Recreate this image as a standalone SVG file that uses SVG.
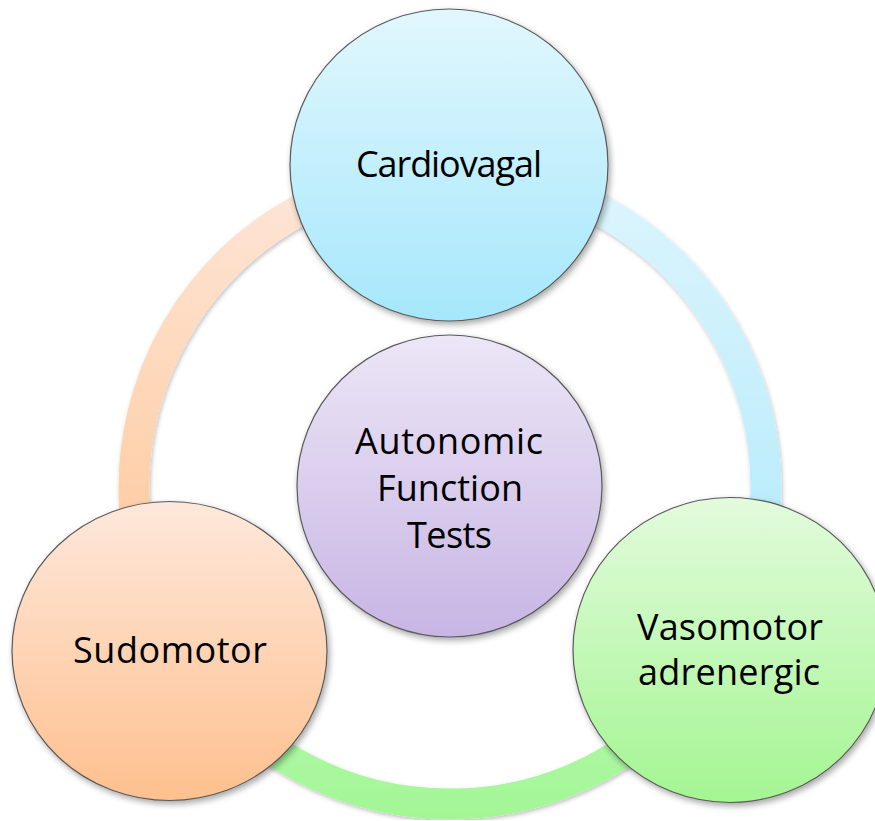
<svg xmlns="http://www.w3.org/2000/svg" width="875" height="821" viewBox="0 0 875 821">
<style>
.node{stroke:#5a5a5a;stroke-width:1.2;filter:url(#sh)}
.lbl{font-family:"Open Sans","Noto Sans",sans-serif;font-size:36px;fill:#000;text-anchor:middle}
.ring{fill:none;stroke-width:31;filter:url(#rsh)}
</style>
<defs>
<filter id="sh" x="-10%" y="-10%" width="125%" height="125%">
<feDropShadow dx="2" dy="3" stdDeviation="3" flood-color="#000" flood-opacity="0.35"/>
</filter>
<filter id="rsh" x="-10%" y="-10%" width="120%" height="120%">
<feDropShadow dx="1" dy="2" stdDeviation="2" flood-color="#000" flood-opacity="0.25"/>
</filter>
<linearGradient id="gC" x1="0" y1="0" x2="0" y2="1"><stop offset="0" stop-color="#E1F7FD"/><stop offset="1" stop-color="#A6E7FB"/></linearGradient>
<linearGradient id="gA" x1="0" y1="0" x2="0" y2="1"><stop offset="0" stop-color="#ECE6F6"/><stop offset="1" stop-color="#C8B5E4"/></linearGradient>
<linearGradient id="gS" x1="0" y1="0" x2="0" y2="1"><stop offset="0" stop-color="#FEE8DB"/><stop offset="1" stop-color="#FEC08E"/></linearGradient>
<linearGradient id="gV" x1="0" y1="0" x2="0" y2="1"><stop offset="0" stop-color="#E2FBDC"/><stop offset="1" stop-color="#A4F592"/></linearGradient>
<linearGradient id="rO" gradientUnits="userSpaceOnUse" x1="0" y1="172" x2="0" y2="646"><stop offset="0" stop-color="#FDE6D8"/><stop offset="1" stop-color="#FFC593"/></linearGradient>
<linearGradient id="rB" gradientUnits="userSpaceOnUse" x1="0" y1="172" x2="0" y2="646"><stop offset="0" stop-color="#DDF5FD"/><stop offset="1" stop-color="#AEE9FB"/></linearGradient>
<linearGradient id="rG" gradientUnits="userSpaceOnUse" x1="0" y1="646" x2="0" y2="820"><stop offset="0" stop-color="#B6F9AE"/><stop offset="1" stop-color="#A3F696"/></linearGradient>
</defs>
<g id="connectors">
<path class="ring" stroke="url(#rB)" d="M450 172 A316 316 0 0 1 723.66 646"/>
<path class="ring" stroke="url(#rG)" d="M723.66 646 A316 316 0 0 1 176.34 646"/>
<path class="ring" stroke="url(#rO)" d="M176.34 646 A316 316 0 0 1 450 172"/>
</g>
<g id="cardiovagal">
<ellipse class="node" cx="449" cy="165" rx="159" ry="156" fill="url(#gC)"/>
<text class="lbl" x="449" y="177" textLength="186">Cardiovagal</text>
</g>
<g id="autonomic">
<ellipse class="node" cx="449.5" cy="486" rx="152.5" ry="151" fill="url(#gA)"/>
<text class="lbl" x="449" y="454" textLength="188">Autonomic</text>
<text class="lbl" x="450" y="501" textLength="146">Function</text>
<text class="lbl" x="449.5" y="548" textLength="85">Tests</text>
</g>
<g id="sudomotor">
<ellipse class="node" cx="169.5" cy="651" rx="157.5" ry="149.5" fill="url(#gS)"/>
<text class="lbl" x="170" y="663" textLength="194">Sudomotor</text>
</g>
<g id="vasomotor">
<ellipse class="node" cx="730" cy="650" rx="157" ry="152.5" fill="url(#gV)"/>
<text class="lbl" x="730" y="640" textLength="186">Vasomotor</text>
<text class="lbl" x="729" y="685" textLength="182">adrenergic</text>
</g>
</svg>
